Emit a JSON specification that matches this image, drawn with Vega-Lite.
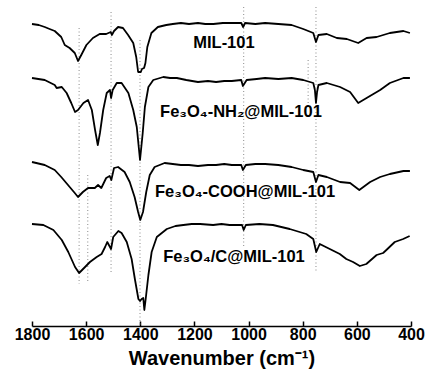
{
  "$schema": "https://vega.github.io/schema/vega-lite/v6.json",
  "width": 379,
  "height": 326,
  "padding": {"left": 32, "right": 15, "top": 0, "bottom": 58},
  "autosize": "none",
  "background": "white",
  "config": {"view": {"stroke": null}, "font": "Liberation Sans"},
  "datasets": {
    "spectra": [
      {"s": "MIL-101", "wn": 1800, "t": 302}, {"s": "MIL-101", "wn": 1775, "t": 301}, {"s": "MIL-101", "wn": 1753, "t": 299}, {"s": "MIL-101", "wn": 1735, "t": 297}, {"s": "MIL-101", "wn": 1716, "t": 295}, {"s": "MIL-101", "wn": 1692, "t": 289}, {"s": "MIL-101", "wn": 1679, "t": 281}, {"s": "MIL-101", "wn": 1661, "t": 278}, {"s": "MIL-101", "wn": 1642, "t": 273}, {"s": "MIL-101", "wn": 1630, "t": 265}, {"s": "MIL-101", "wn": 1618, "t": 271}, {"s": "MIL-101", "wn": 1599, "t": 281}, {"s": "MIL-101", "wn": 1575, "t": 288}, {"s": "MIL-101", "wn": 1550, "t": 292}, {"s": "MIL-101", "wn": 1526, "t": 292}, {"s": "MIL-101", "wn": 1509, "t": 294}, {"s": "MIL-101", "wn": 1505, "t": 291}, {"s": "MIL-101", "wn": 1497, "t": 295}, {"s": "MIL-101", "wn": 1482, "t": 299}, {"s": "MIL-101", "wn": 1464, "t": 298}, {"s": "MIL-101", "wn": 1445, "t": 291}, {"s": "MIL-101", "wn": 1426, "t": 283}, {"s": "MIL-101", "wn": 1415, "t": 269}, {"s": "MIL-101", "wn": 1408, "t": 254}, {"s": "MIL-101", "wn": 1398, "t": 254}, {"s": "MIL-101", "wn": 1394, "t": 257}, {"s": "MIL-101", "wn": 1386, "t": 258}, {"s": "MIL-101", "wn": 1381, "t": 263}, {"s": "MIL-101", "wn": 1374, "t": 279}, {"s": "MIL-101", "wn": 1359, "t": 293}, {"s": "MIL-101", "wn": 1335, "t": 299}, {"s": "MIL-101", "wn": 1304, "t": 301}, {"s": "MIL-101", "wn": 1280, "t": 302}, {"s": "MIL-101", "wn": 1250, "t": 303}, {"s": "MIL-101", "wn": 1220, "t": 302}, {"s": "MIL-101", "wn": 1187, "t": 303}, {"s": "MIL-101", "wn": 1160, "t": 302}, {"s": "MIL-101", "wn": 1130, "t": 302}, {"s": "MIL-101", "wn": 1095, "t": 303}, {"s": "MIL-101", "wn": 1062, "t": 303}, {"s": "MIL-101", "wn": 1027, "t": 303}, {"s": "MIL-101", "wn": 1020, "t": 299}, {"s": "MIL-101", "wn": 1013, "t": 303}, {"s": "MIL-101", "wn": 975, "t": 302}, {"s": "MIL-101", "wn": 939, "t": 303}, {"s": "MIL-101", "wn": 890, "t": 302}, {"s": "MIL-101", "wn": 841, "t": 301}, {"s": "MIL-101", "wn": 798, "t": 297}, {"s": "MIL-101", "wn": 761, "t": 293}, {"s": "MIL-101", "wn": 751, "t": 284}, {"s": "MIL-101", "wn": 742, "t": 291}, {"s": "MIL-101", "wn": 711, "t": 292}, {"s": "MIL-101", "wn": 674, "t": 288}, {"s": "MIL-101", "wn": 637, "t": 287}, {"s": "MIL-101", "wn": 595, "t": 283}, {"s": "MIL-101", "wn": 564, "t": 288}, {"s": "MIL-101", "wn": 527, "t": 289}, {"s": "MIL-101", "wn": 478, "t": 293}, {"s": "MIL-101", "wn": 428, "t": 295}, {"s": "MIL-101", "wn": 404, "t": 293},

      {"s": "NH2", "wn": 1800, "t": 248}, {"s": "NH2", "wn": 1753, "t": 246}, {"s": "NH2", "wn": 1716, "t": 241}, {"s": "NH2", "wn": 1709, "t": 238}, {"s": "NH2", "wn": 1690, "t": 239}, {"s": "NH2", "wn": 1672, "t": 233}, {"s": "NH2", "wn": 1655, "t": 223}, {"s": "NH2", "wn": 1641, "t": 214}, {"s": "NH2", "wn": 1630, "t": 216}, {"s": "NH2", "wn": 1610, "t": 223}, {"s": "NH2", "wn": 1593, "t": 226}, {"s": "NH2", "wn": 1579, "t": 216}, {"s": "NH2", "wn": 1567, "t": 196}, {"s": "NH2", "wn": 1557, "t": 181}, {"s": "NH2", "wn": 1549, "t": 193}, {"s": "NH2", "wn": 1537, "t": 216}, {"s": "NH2", "wn": 1524, "t": 233}, {"s": "NH2", "wn": 1512, "t": 236}, {"s": "NH2", "wn": 1508, "t": 228}, {"s": "NH2", "wn": 1502, "t": 236}, {"s": "NH2", "wn": 1487, "t": 243}, {"s": "NH2", "wn": 1469, "t": 243}, {"s": "NH2", "wn": 1444, "t": 233}, {"s": "NH2", "wn": 1426, "t": 216}, {"s": "NH2", "wn": 1413, "t": 199}, {"s": "NH2", "wn": 1401, "t": 166}, {"s": "NH2", "wn": 1391, "t": 193}, {"s": "NH2", "wn": 1383, "t": 219}, {"s": "NH2", "wn": 1370, "t": 239}, {"s": "NH2", "wn": 1352, "t": 246}, {"s": "NH2", "wn": 1315, "t": 249}, {"s": "NH2", "wn": 1290, "t": 248}, {"s": "NH2", "wn": 1265, "t": 248}, {"s": "NH2", "wn": 1230, "t": 246}, {"s": "NH2", "wn": 1187, "t": 244}, {"s": "NH2", "wn": 1150, "t": 245}, {"s": "NH2", "wn": 1120, "t": 244}, {"s": "NH2", "wn": 1090, "t": 245}, {"s": "NH2", "wn": 1062, "t": 245}, {"s": "NH2", "wn": 1027, "t": 246}, {"s": "NH2", "wn": 1021, "t": 240}, {"s": "NH2", "wn": 1007, "t": 246}, {"s": "NH2", "wn": 970, "t": 247}, {"s": "NH2", "wn": 939, "t": 248}, {"s": "NH2", "wn": 890, "t": 247}, {"s": "NH2", "wn": 841, "t": 248}, {"s": "NH2", "wn": 798, "t": 246}, {"s": "NH2", "wn": 761, "t": 243}, {"s": "NH2", "wn": 755, "t": 236}, {"s": "NH2", "wn": 751, "t": 223}, {"s": "NH2", "wn": 747, "t": 234}, {"s": "NH2", "wn": 742, "t": 241}, {"s": "NH2", "wn": 711, "t": 243}, {"s": "NH2", "wn": 662, "t": 239}, {"s": "NH2", "wn": 625, "t": 234}, {"s": "NH2", "wn": 595, "t": 223}, {"s": "NH2", "wn": 564, "t": 228}, {"s": "NH2", "wn": 514, "t": 236}, {"s": "NH2", "wn": 478, "t": 243}, {"s": "NH2", "wn": 428, "t": 248}, {"s": "NH2", "wn": 404, "t": 248},

      {"s": "COOH", "wn": 1800, "t": 164}, {"s": "COOH", "wn": 1753, "t": 161}, {"s": "COOH", "wn": 1716, "t": 156}, {"s": "COOH", "wn": 1692, "t": 149}, {"s": "COOH", "wn": 1667, "t": 141}, {"s": "COOH", "wn": 1642, "t": 133}, {"s": "COOH", "wn": 1630, "t": 129}, {"s": "COOH", "wn": 1612, "t": 134}, {"s": "COOH", "wn": 1593, "t": 138}, {"s": "COOH", "wn": 1568, "t": 138}, {"s": "COOH", "wn": 1556, "t": 141}, {"s": "COOH", "wn": 1544, "t": 138}, {"s": "COOH", "wn": 1526, "t": 148}, {"s": "COOH", "wn": 1513, "t": 150}, {"s": "COOH", "wn": 1507, "t": 146}, {"s": "COOH", "wn": 1497, "t": 158}, {"s": "COOH", "wn": 1482, "t": 159}, {"s": "COOH", "wn": 1458, "t": 154}, {"s": "COOH", "wn": 1439, "t": 144}, {"s": "COOH", "wn": 1421, "t": 129}, {"s": "COOH", "wn": 1408, "t": 114}, {"s": "COOH", "wn": 1400, "t": 106}, {"s": "COOH", "wn": 1390, "t": 114}, {"s": "COOH", "wn": 1378, "t": 134}, {"s": "COOH", "wn": 1365, "t": 151}, {"s": "COOH", "wn": 1347, "t": 159}, {"s": "COOH", "wn": 1310, "t": 163}, {"s": "COOH", "wn": 1280, "t": 162}, {"s": "COOH", "wn": 1250, "t": 161}, {"s": "COOH", "wn": 1220, "t": 161}, {"s": "COOH", "wn": 1187, "t": 160}, {"s": "COOH", "wn": 1150, "t": 161}, {"s": "COOH", "wn": 1120, "t": 161}, {"s": "COOH", "wn": 1090, "t": 162}, {"s": "COOH", "wn": 1062, "t": 161}, {"s": "COOH", "wn": 1027, "t": 161}, {"s": "COOH", "wn": 1021, "t": 156}, {"s": "COOH", "wn": 1010, "t": 161}, {"s": "COOH", "wn": 975, "t": 162}, {"s": "COOH", "wn": 939, "t": 162}, {"s": "COOH", "wn": 890, "t": 161}, {"s": "COOH", "wn": 841, "t": 159}, {"s": "COOH", "wn": 798, "t": 156}, {"s": "COOH", "wn": 761, "t": 154}, {"s": "COOH", "wn": 751, "t": 144}, {"s": "COOH", "wn": 742, "t": 151}, {"s": "COOH", "wn": 711, "t": 149}, {"s": "COOH", "wn": 662, "t": 144}, {"s": "COOH", "wn": 625, "t": 143}, {"s": "COOH", "wn": 591, "t": 136}, {"s": "COOH", "wn": 551, "t": 144}, {"s": "COOH", "wn": 514, "t": 149}, {"s": "COOH", "wn": 478, "t": 152}, {"s": "COOH", "wn": 428, "t": 155}, {"s": "COOH", "wn": 404, "t": 155},

      {"s": "C", "wn": 1800, "t": 102}, {"s": "C", "wn": 1758, "t": 101}, {"s": "C", "wn": 1721, "t": 96}, {"s": "C", "wn": 1690, "t": 86}, {"s": "C", "wn": 1666, "t": 74}, {"s": "C", "wn": 1641, "t": 59}, {"s": "C", "wn": 1626, "t": 53}, {"s": "C", "wn": 1604, "t": 59}, {"s": "C", "wn": 1586, "t": 64}, {"s": "C", "wn": 1561, "t": 69}, {"s": "C", "wn": 1543, "t": 72}, {"s": "C", "wn": 1530, "t": 79}, {"s": "C", "wn": 1522, "t": 84}, {"s": "C", "wn": 1514, "t": 80}, {"s": "C", "wn": 1508, "t": 77}, {"s": "C", "wn": 1500, "t": 89}, {"s": "C", "wn": 1481, "t": 95}, {"s": "C", "wn": 1469, "t": 93}, {"s": "C", "wn": 1450, "t": 84}, {"s": "C", "wn": 1432, "t": 67}, {"s": "C", "wn": 1420, "t": 47}, {"s": "C", "wn": 1407, "t": 27}, {"s": "C", "wn": 1401, "t": 25}, {"s": "C", "wn": 1395, "t": 27}, {"s": "C", "wn": 1389, "t": 28}, {"s": "C", "wn": 1385, "t": 16}, {"s": "C", "wn": 1380, "t": 27}, {"s": "C", "wn": 1370, "t": 51}, {"s": "C", "wn": 1358, "t": 74}, {"s": "C", "wn": 1339, "t": 89}, {"s": "C", "wn": 1302, "t": 97}, {"s": "C", "wn": 1270, "t": 100}, {"s": "C", "wn": 1241, "t": 101}, {"s": "C", "wn": 1210, "t": 102}, {"s": "C", "wn": 1179, "t": 102}, {"s": "C", "wn": 1131, "t": 101}, {"s": "C", "wn": 1100, "t": 102}, {"s": "C", "wn": 1070, "t": 101}, {"s": "C", "wn": 1024, "t": 101}, {"s": "C", "wn": 1018, "t": 96}, {"s": "C", "wn": 1010, "t": 101}, {"s": "C", "wn": 960, "t": 102}, {"s": "C", "wn": 910, "t": 101}, {"s": "C", "wn": 848, "t": 97}, {"s": "C", "wn": 787, "t": 92}, {"s": "C", "wn": 761, "t": 87}, {"s": "C", "wn": 750, "t": 74}, {"s": "C", "wn": 737, "t": 82}, {"s": "C", "wn": 700, "t": 77}, {"s": "C", "wn": 663, "t": 72}, {"s": "C", "wn": 639, "t": 67}, {"s": "C", "wn": 614, "t": 64}, {"s": "C", "wn": 589, "t": 60}, {"s": "C", "wn": 565, "t": 62}, {"s": "C", "wn": 527, "t": 71}, {"s": "C", "wn": 503, "t": 73}, {"s": "C", "wn": 491, "t": 76}, {"s": "C", "wn": 460, "t": 84}, {"s": "C", "wn": 429, "t": 87}, {"s": "C", "wn": 405, "t": 90}
    ],
    "guides": [
      {"wn": 1626, "top": 298, "bottom": 42},
      {"wn": 1594, "top": 151, "bottom": 45},
      {"wn": 1508, "top": 314, "bottom": 54},
      {"wn": 1401, "top": 286, "bottom": 0},
      {"wn": 1018, "top": 319, "bottom": 79},
      {"wn": 780, "top": 266, "bottom": 219},
      {"wn": 751, "top": 319, "bottom": 54}
    ],
    "labels": [
      {"wn": 1091, "t": 283, "label": "MIL-101"},
      {"wn": 1028, "t": 214, "label": "Fe₃O₄-NH₂@MIL-101"},
      {"wn": 1013, "t": 134, "label": "Fe₃O₄-COOH@MIL-101"},
      {"wn": 1054, "t": 69, "label": "Fe₃O₄/C@MIL-101"}
    ]
  },
  "layer": [
    {
      "data": {"name": "guides"},
      "mark": {"type": "rule", "color": "#8a8a8a", "strokeWidth": 1, "strokeDash": [1, 2.5]},
      "encoding": {
        "x": {"field": "wn", "type": "quantitative", "scale": {"domain": [400, 1800], "reverse": true, "nice": false, "zero": false},
          "axis": {
            "values": [1800, 1700, 1600, 1500, 1400, 1300, 1200, 1100, 1000, 900, 800, 700, 600, 500, 400],
            "labelExpr": "datum.value % 200 === 0 ? datum.label : ''",
            "format": "d",
            "title": "Wavenumber (cm⁻¹)",
            "titleFontSize": 20, "titleFontWeight": "bold", "titleColor": "black", "titlePadding": 6,
            "labelFontSize": 16, "labelFontWeight": "bold", "labelColor": "black", "labelPadding": 5,
            "labelFlush": false, "labelOverlap": false,
            "domainColor": "black", "domainWidth": 1.5,
            "tickColor": "black", "tickWidth": 1.5,
            "tickSize": {"condition": {"test": "datum.value % 200 === 0", "value": -5}, "value": -3},
            "grid": false
          }},
        "y": {"field": "top", "type": "quantitative", "scale": {"domain": [0, 326], "nice": false, "zero": false}, "axis": null},
        "y2": {"field": "bottom"}
      }
    },
    {
      "data": {"name": "spectra"},
      "mark": {"type": "line", "color": "black", "strokeWidth": 1.8, "strokeJoin": "round"},
      "encoding": {
        "x": {"field": "wn", "type": "quantitative"},
        "y": {"field": "t", "type": "quantitative"},
        "detail": {"field": "s"}
      }
    },
    {
      "data": {"name": "labels"},
      "mark": {"type": "text", "fontSize": 16.5, "fontWeight": "bold", "color": "black", "align": "center", "baseline": "middle"},
      "encoding": {
        "x": {"field": "wn", "type": "quantitative"},
        "y": {"field": "t", "type": "quantitative"},
        "text": {"field": "label"}
      }
    }
  ]
}
